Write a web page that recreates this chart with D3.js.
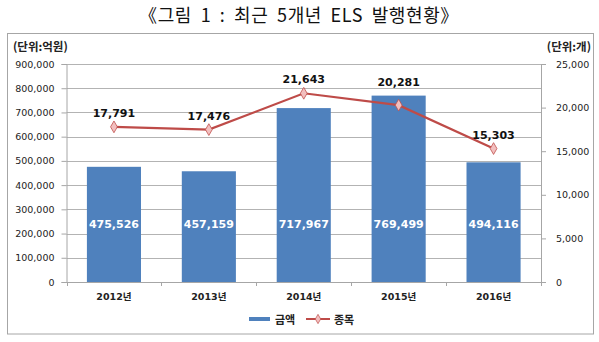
<!DOCTYPE html>
<html><head><meta charset="utf-8">
<script src="https://cdn.jsdelivr.net/npm/d3@7"></script>
<style>
body{margin:0;background:#fff;}
svg{display:block;}
</style></head>
<body>
<svg id="c" width="599" height="342"></svg>
<script>
const title = "《그림 1 : 최근 5개년 ELS 발행현황》";
const categories = ["2012년","2013년","2014년","2015년","2016년"];
const amounts = [475526, 457159, 717967, 769499, 494116];
const counts = [17791, 17476, 21643, 20281, 15303];
const leftTicks = [0,100000,200000,300000,400000,500000,600000,700000,800000,900000];
const rightTicks = [0,5000,10000,15000,20000,25000];
const seriesNames = ["금액","종목"];
const unitLeft = "(단위:억원)", unitRight = "(단위:개)";

const svg = d3.select("#c");
const KR = "'Noto Sans CJK KR','Noto Sans',sans-serif";
const NUM = "'DejaVu Sans',Verdana,sans-serif";
const NUMKR = "'DejaVu Sans','Noto Sans CJK KR',sans-serif";
const m = {l:66.5, r:541, t:64, b:282};
const x = d3.scaleBand().domain(categories).range([m.l, m.r]).paddingInner(0.43).paddingOuter(0.215);
const xc = d3.scaleBand().domain(categories).range([m.l, m.r]);
const yL = d3.scaleLinear().domain([0,900000]).range([m.b, m.t]);
const yR = d3.scaleLinear().domain([0,25000]).range([m.b, m.t]);
const fmt = d3.format(",");

// frame
svg.append("rect").attr("x",7.5).attr("y",33.5).attr("width",586).attr("height",300.5)
  .attr("fill","none").attr("stroke","#A6A6A6").attr("stroke-width",1);

svg.append("text").attr("x",299).attr("y",22).attr("text-anchor","middle")
  .attr("font-family",KR).attr("font-size",18).attr("word-spacing",4).attr("letter-spacing",0.6)
  .attr("fill","#111").text(title);

svg.append("text").attr("x",13).attr("y",51).attr("font-family",KR).attr("font-weight","bold")
  .attr("font-size",11.5).attr("fill","#222").text(unitLeft);
svg.append("text").attr("x",591).attr("y",51).attr("text-anchor","end").attr("font-family",KR).attr("font-weight","bold")
  .attr("font-size",11.5).attr("fill","#222").text(unitRight);

// gridlines
svg.append("g").selectAll("line").data(leftTicks.slice(1)).join("line")
  .attr("x1",m.l).attr("x2",m.r).attr("y1",d=>Math.round(yL(d))+0.5).attr("y2",d=>Math.round(yL(d))+0.5)
  .attr("stroke","#B3B3B3").attr("stroke-width",1);

// left axis
const gL = svg.append("g").attr("transform",`translate(${m.l},0)`)
  .call(d3.axisLeft(yL).tickValues(leftTicks).tickFormat(fmt).tickSize(5).tickPadding(7));
gL.select(".domain").attr("stroke","#A6A6A6");
gL.selectAll(".tick line").attr("stroke","#A6A6A6");
gL.selectAll("text").attr("font-family",NUM).attr("font-size",9.5).attr("fill","#222");

// right axis
const gR = svg.append("g").attr("transform",`translate(${m.r},0)`)
  .call(d3.axisRight(yR).tickValues(rightTicks).tickFormat(fmt).tickSize(5).tickPadding(10));
gR.select(".domain").attr("stroke","#A6A6A6");
gR.selectAll(".tick line").attr("stroke","#A6A6A6");
gR.selectAll("text").attr("font-family",NUM).attr("font-size",9.5).attr("fill","#222");

// bars
svg.append("g").selectAll("rect").data(categories).join("rect")
  .attr("x",(d)=>x(d)).attr("width",x.bandwidth())
  .attr("y",(d,i)=>yL(amounts[i])).attr("height",(d,i)=>m.b-yL(amounts[i]))
  .attr("fill","#4F81BD");

// bottom axis
const gB = svg.append("g").attr("transform",`translate(0,${m.b})`)
  .call(d3.axisBottom(xc).tickSize(0).tickPadding(11));
gB.select(".domain").attr("stroke","#A6A6A6");
gB.selectAll("text").attr("font-family",NUMKR).attr("font-weight","bold").attr("font-size",9.5).attr("fill","#222");
svg.append("g").selectAll("line").data(categories.concat(["end"])).join("line")
  .attr("x1",(d,i)=>Math.round(m.l + i*xc.bandwidth())+0.5).attr("x2",(d,i)=>Math.round(m.l + i*xc.bandwidth())+0.5)
  .attr("y1",m.b).attr("y2",m.b+4).attr("stroke","#A6A6A6");

// bar labels
svg.append("g").selectAll("text").data(categories).join("text")
  .attr("x",d=>x(d)+x.bandwidth()/2).attr("y",(d,i)=>yL(240000)+4)
  .attr("text-anchor","middle").attr("font-family",NUM).attr("font-weight","bold")
  .attr("font-size",11).attr("fill","#fff").text((d,i)=>fmt(amounts[i]));

// line
const cx = d=>xc(d)+xc.bandwidth()/2;
const line = d3.line().x((d,i)=>cx(categories[i])).y(d=>yR(d));
svg.append("path").datum(counts).attr("d",line).attr("fill","none")
  .attr("stroke","#BE4B48").attr("stroke-width",2.2);
const diamond = d3.symbol().type(d3.symbolDiamond).size(40);
svg.append("g").selectAll("path").data(counts).join("path")
  .attr("transform",(d,i)=>`translate(${cx(categories[i])},${yR(d)})`)
  .attr("d",diamond).attr("fill","#F2BFBF").attr("stroke","#C0504D").attr("stroke-width",0.8);
svg.append("g").selectAll("text").data(counts).join("text")
  .attr("x",(d,i)=>cx(categories[i])).attr("y",(d,i)=>Math.min(yR(d), yL(amounts[i])) - 10)
  .attr("text-anchor","middle").attr("font-family",NUM).attr("font-weight","bold")
  .attr("font-size",11).attr("fill","#111").text(d=>fmt(d));

// legend
const lg = svg.append("g");
lg.append("rect").attr("x",249).attr("y",317).attr("width",21).attr("height",4).attr("fill","#4F81BD");
lg.append("text").attr("x",275).attr("y",323.5).attr("font-family",KR).attr("font-weight","bold").attr("font-size",11).attr("fill","#222").text(seriesNames[0]);
lg.append("line").attr("x1",306).attr("x2",330).attr("y1",319).attr("y2",319).attr("stroke","#BE4B48").attr("stroke-width",2);
lg.append("path").attr("transform","translate(318,319)").attr("d",d3.symbol().type(d3.symbolDiamond).size(25)).attr("fill","#F2BFBF").attr("stroke","#C0504D").attr("stroke-width",0.7);
lg.append("text").attr("x",334).attr("y",323.5).attr("font-family",KR).attr("font-weight","bold").attr("font-size",11).attr("fill","#222").text(seriesNames[1]);
</script>
</body></html>
